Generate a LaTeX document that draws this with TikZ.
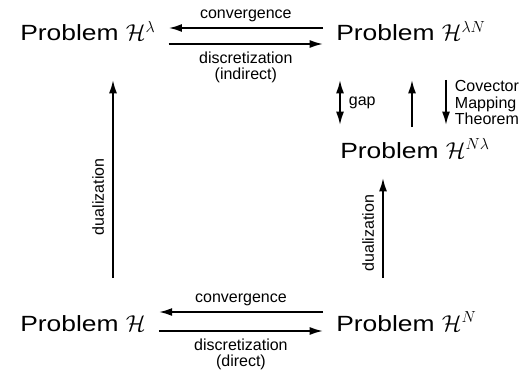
\documentclass[tikz,border=0pt]{standalone}
\usepackage{fontspec}
\setmainfont{Liberation Sans}
\newfontfamily\probfont[FakeStretch=1.2]{Liberation Sans}
\usetikzlibrary{arrows.meta}

\tikzset{
  prob/.style={inner sep=0pt, anchor=base west, font=\probfont\fontsize{16.5}{19}\selectfont},
  arr/.style={line width=1.4pt, -{Latex[length=10pt,width=6pt]}},
  darr/.style={line width=1.4pt, {Latex[length=10pt,width=6pt]}-{Latex[length=10pt,width=6pt]}},
  lab/.style={font=\fontsize{12}{12.5}\selectfont, inner sep=1pt}
}

\begin{document}
\begin{tikzpicture}[x=0.75pt,y=-0.75pt]
  \useasboundingbox (0,0) rectangle (527,381);
  % the five problems
  \node[prob] (lam)  at (20,41)  {Problem $\mathcal{H}^{\lambda}$};
  \node[prob] (lamN) at (336,41) {Problem $\mathcal{H}^{\lambda N}$};
  \node[prob] (Nlam) at (340,158) {Problem $\mathcal{H}^{N\lambda}$};
  \node[prob] (orig) at (20,331) {Problem $\mathcal{H}$};
  \node[prob] (dir)  at (336,331) {Problem $\mathcal{H}^{N}$};
  % top row
  \draw[arr] ([shift={(-13,-13)}]lamN.base west) -- ([shift={(13,-13)}]lam.base east)
    node[lab,midway,above=3pt] {convergence};
  \draw[arr] ([shift={(13,3)}]lam.base east) -- ([shift={(-13,3)}]lamN.base west)
    node[lab,midway,below=4pt,align=center] {discretization\\(indirect)};
  % bottom row
  \draw[arr] ([shift={(-13,-19)}]dir.base west) -- ([shift={(13,-19)}]orig.base east)
    node[lab,midway,above=3pt] {convergence};
  \draw[arr] ([shift={(13,0)}]orig.base east) -- ([shift={(-13,0)}]dir.base west)
    node[lab,midway,below=4pt,align=center] {discretization\\(direct)};
  % dualization
  \draw[arr] ([shift={(93,-53)}]orig.base west) -- ([shift={(93,39)}]lam.base west)
    node[lab,pos=0.41,above=5pt,sloped] {dualization};
  \draw[arr] ([shift={(47,-53)}]dir.base west) -- ([shift={(43,20)}]Nlam.base west)
    node[lab,pos=0.45,above=5pt,sloped] {dualization};
  % right column
  \draw[darr] ([shift={(4,39)}]lamN.base west) -- ([shift={(0,-33)}]Nlam.base west)
    node[lab,midway,right=5pt] {gap};
  \draw[arr] ([shift={(72,-31)}]Nlam.base west) -- ([shift={(76,39)}]lamN.base west);
  \draw[arr] ([shift={(110,39)}]lamN.base west) -- ([shift={(106,-33)}]Nlam.base west)
    node[lab,midway,right=5pt,align=left] {Covector\\Mapping\\Theorem};
\end{tikzpicture}
\end{document}
